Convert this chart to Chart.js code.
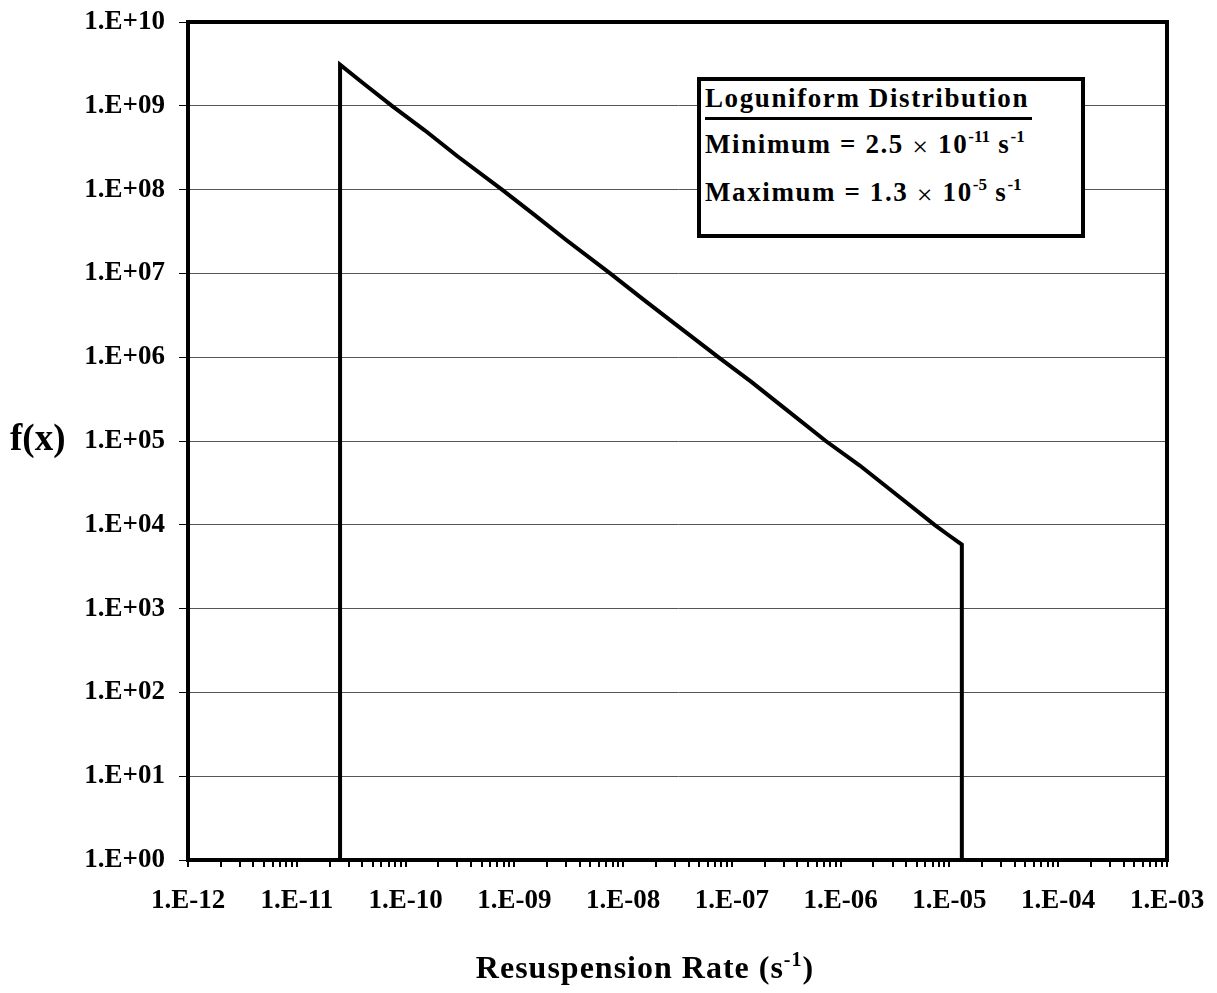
<!DOCTYPE html>
<html>
<head>
<meta charset="utf-8">
<script src="https://cdn.jsdelivr.net/npm/chart.js@4/dist/chart.umd.min.js"></script>
<style>
  body { margin: 0; background: #fff; }
  #wrap { position: relative; width: 1217px; height: 993px; font-family: "Liberation Serif", "Times New Roman", serif; font-weight: bold; color: #000; }
  #wrap canvas { position: absolute; left: 0; top: 0; }
  .txt { position: absolute; line-height: 1; white-space: nowrap; }
  .box { position: absolute; left: 697px; top: 77px; width: 388px; height: 161px; box-sizing: border-box; border: 4px solid #000; background: #fff; }
  .leg { font-size: 27px; letter-spacing: 1.6px; left: 705px; }
  .leg sup { font-size: 17px; vertical-align: 11px; line-height: 0; letter-spacing: 0; }
  .times { font-weight: normal; font-size: 28px; position: relative; top: 3px; }
  .ul { border-bottom: 3px solid #000; padding-bottom: 4px; padding-right: 3px; }
</style>
</head>
<body>
<div id="wrap">
  <canvas id="canvas1" width="1217" height="993"></canvas>
  <div class="txt" style="left:10px; top:419px; font-size:37px;">f(x)</div>
  <div class="txt" style="left:0; width:1290px; text-align:center; top:951px; font-size:32px; letter-spacing:1px;">Resuspension Rate (s<sup style="font-size:20px; vertical-align:12px; line-height:0;">-1</sup>)</div>
  <div class="box"></div>
  <div class="txt leg" style="top:85px;"><span class="ul">Loguniform Distribution</span></div>
  <div class="txt leg" style="top:130px;">Minimum = 2.5 <span class="times">×</span> 10<sup>-11</sup> s<sup>-1</sup></div>
  <div class="txt leg" style="top:178px;">Maximum = 1.3 <span class="times">×</span> 10<sup>-5</sup> s<sup>-1</sup></div>
</div>
<script>
var ctx1 = document.getElementById("canvas1").getContext("2d");

// tick labels
const xTicks = [1e-12, 1e-11, 1e-10, 1e-9, 1e-8, 1e-7, 1e-6, 1e-5, 1e-4, 1e-3];
const xTickLabels = ["1.E-12", "1.E-11", "1.E-10", "1.E-09", "1.E-08", "1.E-07", "1.E-06", "1.E-05", "1.E-04", "1.E-03"];
const yTicks = [1, 1e1, 1e2, 1e3, 1e4, 1e5, 1e6, 1e7, 1e8, 1e9, 1e10];
const yTickLabels = ["1.E+00", "1.E+01", "1.E+02", "1.E+03", "1.E+04", "1.E+05", "1.E+06", "1.E+07", "1.E+08", "1.E+09", "1.E+10"];

// loguniform pdf
const rate = [2.5e-11, 2.5e-11, 4e-11, 7.5e-11, 1.5e-10, 3e-10, 7.7e-10, 1.5e-9, 3e-9, 7.6e-9, 1.5e-8, 3e-8, 7.5e-8, 1.5e-7, 3e-7, 7.3e-7, 1.5e-6, 3e-6, 7.3e-6, 1.0e-5, 1.3e-5, 1.3e-5];
const density = [1, 3.1e9, 1.9e9, 1.0e9, 5.1e8, 2.5e8, 1.0e8, 5.1e7, 2.5e7, 1.0e7, 5.0e6, 2.5e6, 1.0e6, 5.1e5, 2.5e5, 1.0e5, 5.1e4, 2.5e4, 1.0e4, 7.4e3, 5.8e3, 1];

const font = { family: '"Liberation Serif", "Times New Roman", serif', weight: "bold", size: 27 };

// top and right edge of the plot frame
const frame = {
  id: "frame",
  afterDraw(chart) {
    const a = chart.chartArea;
    const c = chart.ctx;
    c.save();
    c.strokeStyle = "#000";
    c.lineWidth = 4;
    c.strokeRect(a.left, a.top, a.right - a.left, a.bottom - a.top);
    c.restore();
  },
};

let myChart = new Chart(ctx1, {
  type: "line",
  data: {
    datasets: [
      {
        data: rate.map((r, i) => ({ x: r, y: density[i] })),
        borderColor: "#000",
        borderWidth: 4,
        pointRadius: 0,
        fill: false,
        tension: 0,
      },
    ],
  },
  options: {
    responsive: false,
    animation: false,
    layout: { padding: { top: 22, right: 50, left: 0, bottom: 0 } },
    plugins: { legend: { display: false }, tooltip: { enabled: false } },
    scales: {
      x: {
        type: "logarithmic",
        min: 1e-12,
        max: 1e-3,
        afterBuildTicks: (axis) => {
          const t = [];
          xTicks.forEach((d, i) => {
            t.push({ value: d });
            if (i < xTicks.length - 1) for (let m = 2; m < 10; m++) t.push({ value: d * m });
          });
          axis.ticks = t;
        },
        afterFit: (axis) => {
          axis.height = 133;
          axis.paddingLeft = 0;
          axis.paddingRight = 0;
        },
        ticks: {
          autoSkip: false,
          maxRotation: 0,
          padding: 18,
          color: "#000",
          font: font,
          callback: function (v) {
            const i = xTicks.findIndex((d) => Math.abs(d - v) / d < 1e-6);
            return i >= 0 ? xTickLabels[i] : "";
          },
        },
        grid: { drawOnChartArea: false, tickLength: 7, tickColor: "#000", lineWidth: 2 },
        border: { color: "#000", width: 4 },
      },
      y: {
        type: "logarithmic",
        min: 1,
        max: 1e10,
        afterBuildTicks: (axis) => { axis.ticks = yTicks.map((v) => ({ value: v })); },
        afterFit: (axis) => {
          axis.width = 188;
          axis.paddingTop = 0;
          axis.paddingBottom = 0;
        },
        ticks: {
          padding: 14,
          color: "#000",
          font: font,
          callback: function (v) {
            const i = yTicks.findIndex((d) => Math.abs(d - v) / d < 1e-6);
            return i >= 0 ? yTickLabels[i] : "";
          },
        },
        grid: { color: "#555", lineWidth: 1, tickLength: 9, tickColor: "#000" },
        border: { color: "#000", width: 4 },
      },
    },
  },
  plugins: [frame],
});
</script>
</body>
</html>
